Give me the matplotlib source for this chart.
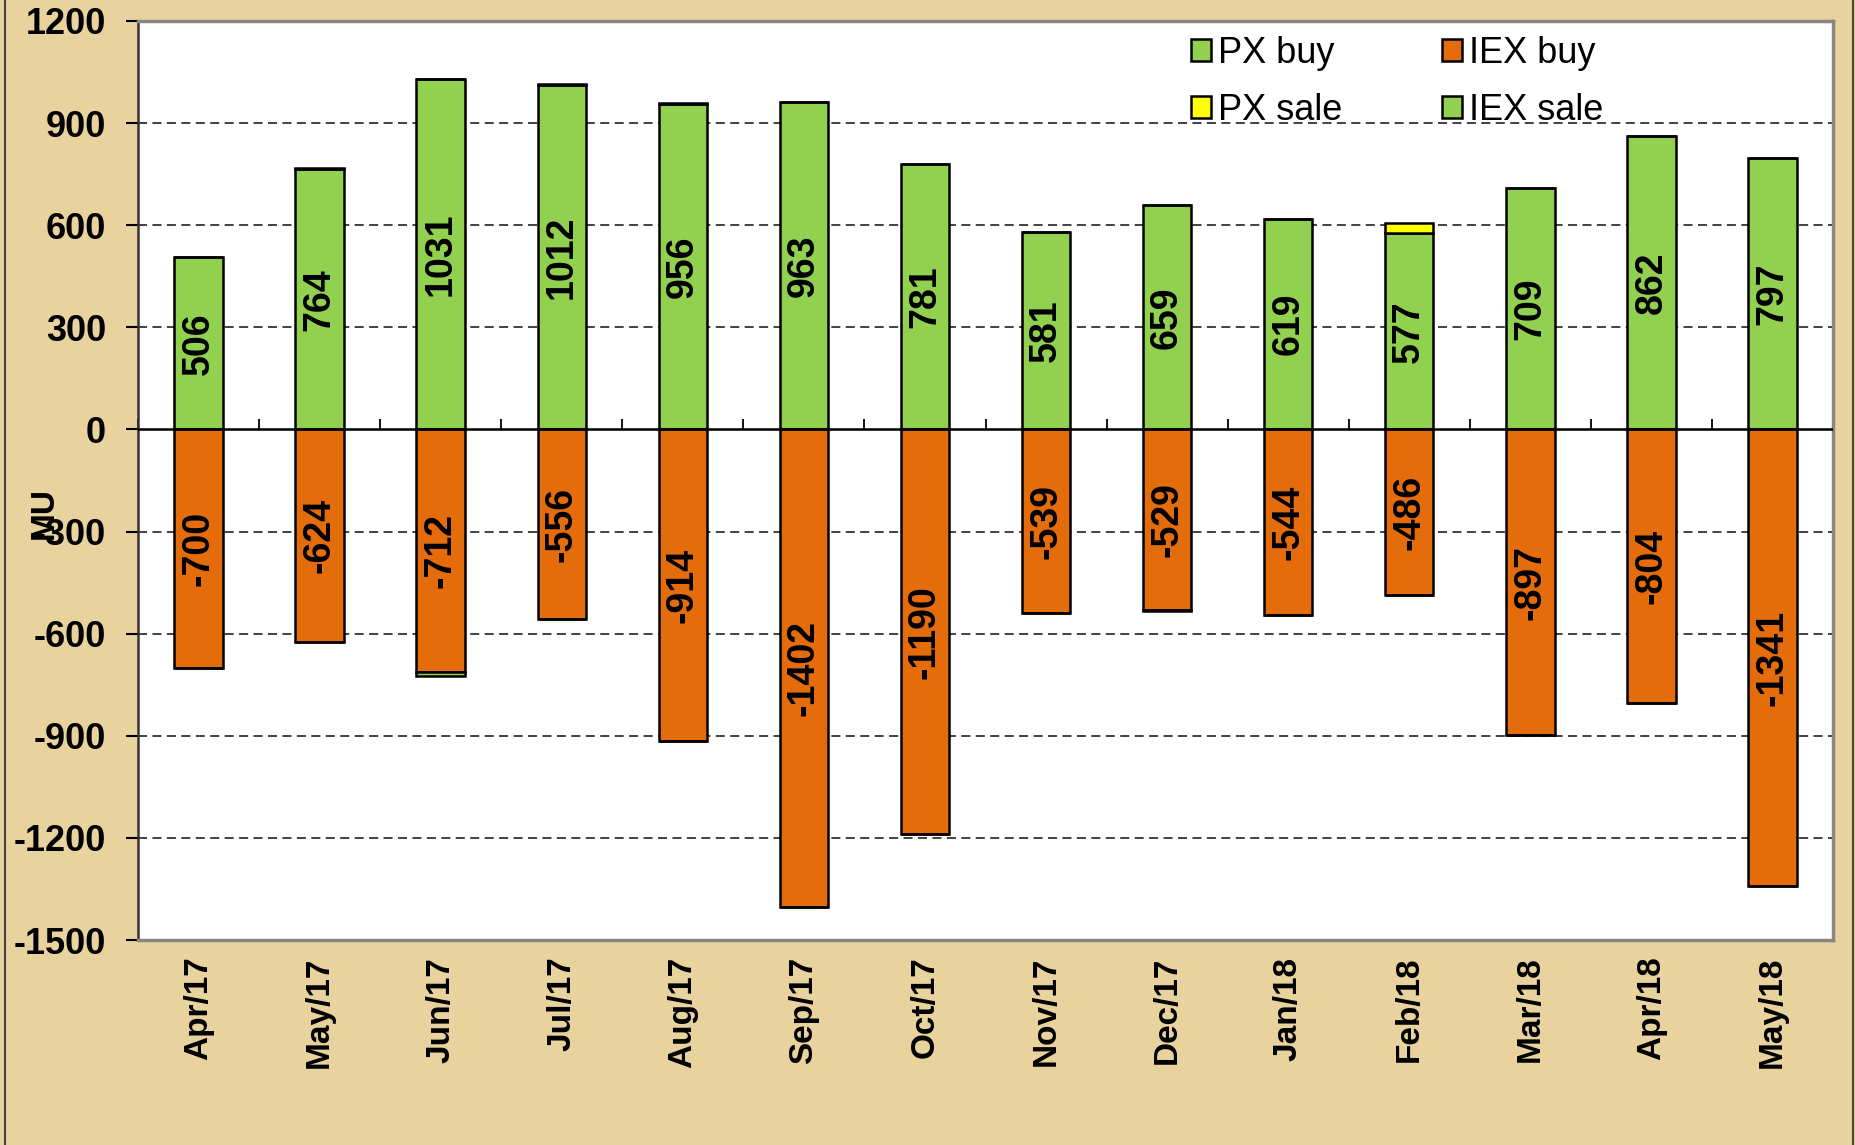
import numpy as np
import matplotlib
matplotlib.use("Agg")
import matplotlib.pyplot as plt
from matplotlib.lines import Line2D

months = ["Apr/17", "May/17", "Jun/17", "Jul/17", "Aug/17", "Sep/17", "Oct/17",
          "Nov/17", "Dec/17", "Jan/18", "Feb/18", "Mar/18", "Apr/18", "May/18"]
px_buy = [506, 764, 1031, 1012, 956, 963, 781, 581, 659, 619, 577, 709, 862, 797]
px_sale = [0, 4, 0, 4, 4, 0, 0, 0, 0, 0, 30, 0, 0, 0]
iex_buy = [-700, -624, -712, -556, -914, -1402, -1190, -539, -529, -544, -486, -897, -804, -1341]
iex_sale = [0, 0, -11, 0, 0, 0, 0, 0, -4, 0, 0, 0, 0, 0]
yticks = [1200, 900, 600, 300, 0, -300, -600, -900, -1200, -1500]

plt.rcParams['font.family'] = ['Liberation Sans', 'DejaVu Sans']

GREEN = '#92D050'
ORANGE = '#E46C0A'
YELLOW = '#FFFF00'
BG = '#E8D39E'

fig = plt.figure(figsize=(18.56, 11.45), dpi=100)
fig.patch.set_facecolor(BG)
ax = fig.add_axes([138/1856, 1 - 940/1145, (1833-138)/1856, (940-21)/1145])
ax.set_facecolor('white')

x = np.arange(len(months))
w = 0.4
ekw = dict(edgecolor='black', linewidth=1.8, zorder=3)
ax.bar(x, px_buy, w, color=GREEN, label='PX buy', **ekw)
ax.bar(x, px_sale, w, bottom=px_buy, color=YELLOW, label='PX sale', **ekw)
ax.bar(x, iex_buy, w, color=ORANGE, label='IEX buy', **ekw)
ax.bar(x, iex_sale, w, bottom=iex_buy, color=GREEN, label='IEX sale', **ekw)

for xi, v in zip(x, px_buy):
    ax.text(xi, v/2, f"{v}", rotation=90, ha='center', va='center', rotation_mode='anchor',
            fontsize=27, fontweight='bold', color='black', zorder=5)
for xi, v in zip(x, iex_buy):
    ax.text(xi, v/2, f"{v}", rotation=90, ha='center', va='center', rotation_mode='anchor',
            fontsize=27, fontweight='bold', color='black', zorder=5)

ax.set_xlim(-0.5, len(months) - 0.5)
ax.set_ylim(-1500, 1200)
ax.set_yticks(yticks)
ax.set_yticklabels([str(t) for t in yticks], fontsize=26, fontweight='bold')
ax.tick_params(axis='y', direction='out', length=9, width=1.5, color='black', pad=14)
ax.set_xticks(x)
ax.set_xticklabels(months, rotation=90, fontsize=24, fontweight='bold')
ax.tick_params(axis='x', length=0, pad=12)

for t in yticks:
    if t not in (0, 1200, -1500):
        ax.axhline(t, color='#333333', linestyle=(0, (5, 3)), linewidth=1.3, zorder=1)
ax.axhline(0, color='black', linewidth=1.8, zorder=4)

sec = ax.secondary_xaxis(1500/2700)
sec.set_xticks(np.arange(-0.5, len(months), 1.0))
sec.set_xticklabels([])
sec.tick_params(direction='out', length=7, width=1.3, color='black')
sec.spines['bottom'].set_visible(False)

for s in ['top', 'right', 'bottom']:
    ax.spines[s].set_color('#8a8580')
    ax.spines[s].set_linewidth(2.5)
ax.spines['left'].set_color('#333333')
ax.spines['left'].set_linewidth(1.8)

ax.set_ylabel('MU', fontsize=24, fontweight='bold')
ax.yaxis.set_label_coords(-0.046, 0.465)

h, l = ax.get_legend_handles_labels()
order = [0, 1, 2, 3]
leg = ax.legend([h[i] for i in order], [l[i] for i in order], ncol=2,
                loc='upper left', bbox_to_anchor=(1191/1856, 1 - 36/1145),
                bbox_transform=fig.transFigure, frameon=False, fontsize=26,
                handlelength=0.55, handleheight=0.55, handletextpad=0.2,
                columnspacing=2.75, labelspacing=0.6, borderpad=0, borderaxespad=0)
for p in leg.get_patches():
    p.set_linewidth(1.8)

fig.add_artist(Line2D([5/1856, 5/1856], [0, 1], color='#444444', linewidth=1.5, transform=fig.transFigure))
fig.add_artist(Line2D([1853/1856, 1853/1856], [0, 1], color='#444444', linewidth=1.5, transform=fig.transFigure))

fig.savefig('out.png', dpi=100, facecolor=BG)
